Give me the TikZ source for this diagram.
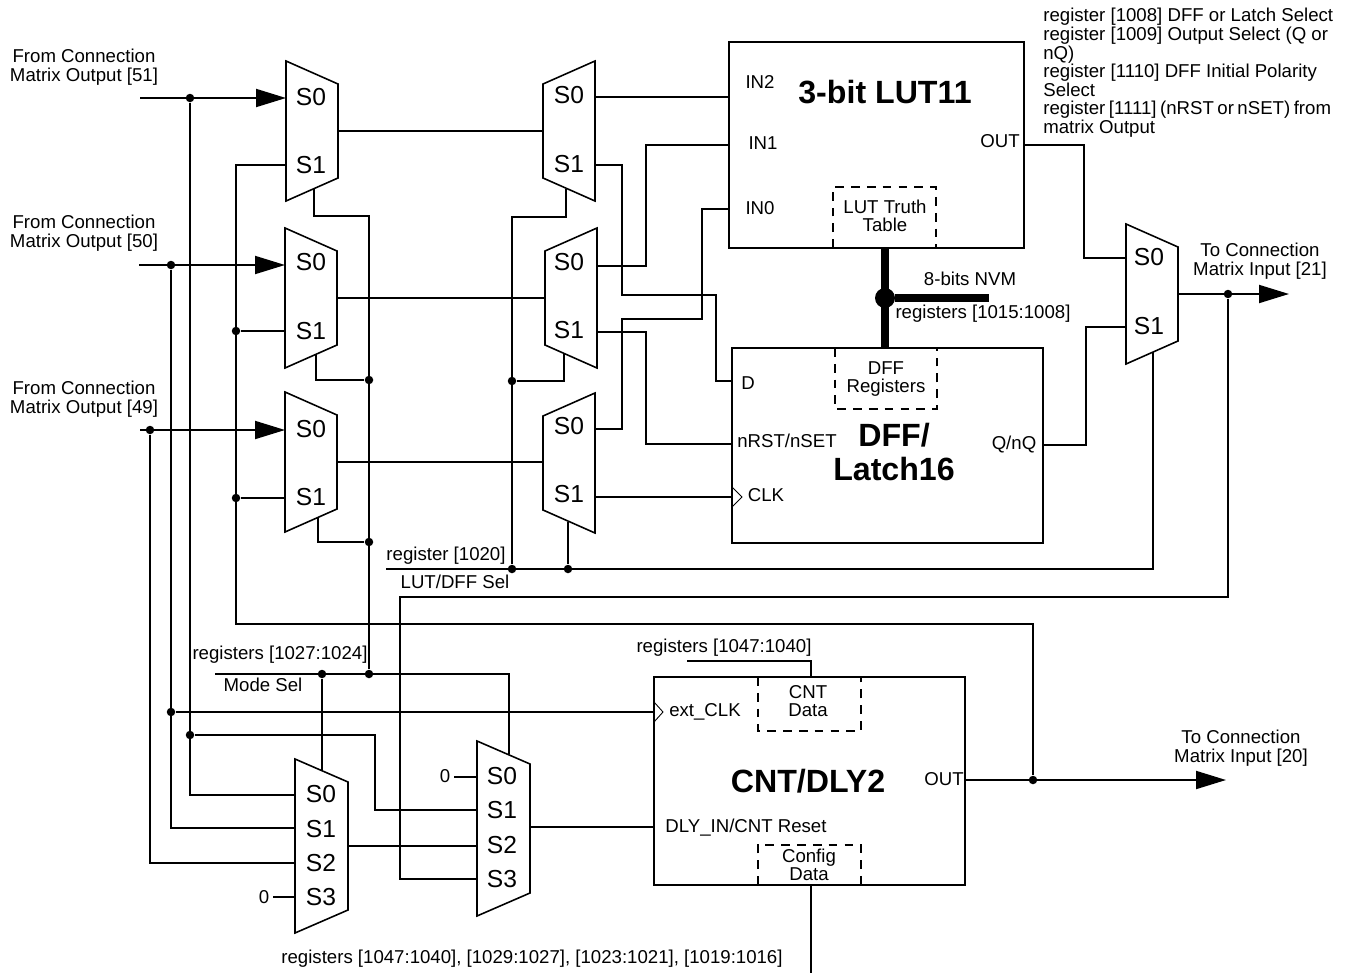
\documentclass[tikz,border=0pt]{standalone}
\usepackage{fontspec}
\setmainfont{Liberation Sans}
\usetikzlibrary{arrows.meta}
\tikzset{
    block/.style={
        draw,
        line width=1.1pt,
        inner sep=0pt,
        outer sep=0pt,
        minimum width=6.22cm,
        minimum height=3.9cm
    },
    muxbox/.style={
        inner sep=0pt,
        outer sep=0pt
    },
    muxline/.style={
        line width=0.9pt,
        line join=miter
    },
    wire/.style={
        line width=1.1pt
    },
    bigarrow/.style={
        wire,
        -{Triangle[length=0.6cm,width=0.36cm]}
    },
    dashbox/.style={
        line width=0.9pt,
        dash pattern=on 5pt off 4pt
    },
    bus/.style={
        line width=4pt
    },
    dot/.style={
        circle,
        fill=black,
        inner sep=0pt,
        minimum size=0.17cm
    },
    lab/.style={
        align=center,
        inner sep=0pt,
        yshift=-0.02cm,
        font=\fontsize{10.6}{10.6}\selectfont
    },
    muxlab/.style={
        inner sep=0pt,
        font=\fontsize{14}{14}\selectfont
    },
    title/.style={
        align=center,
        inner sep=0pt,
        font=\fontsize{18.3}{19.3}\selectfont\bfseries
    }
}
% name, centre x, centre y, width, long side, +1 long side left or -1 long side right
\newcommand{\muxnode}[6]{
    \node[muxbox, minimum width=#4*0.02cm, minimum height=#5*0.02cm] (#1) at (#2,#3) {};
    \draw[muxline, shift={(#2,#3)}]
        ({-#4/2},{-(#5/2-11.5+#6*11.5)}) -- ({#4/2},{-(#5/2-11.5-#6*11.5)}) --
        ({#4/2},{#5/2-11.5-#6*11.5}) -- ({-#4/2},{#5/2-11.5+#6*11.5}) -- cycle;
}

\begin{document}
\begin{tikzpicture}[x=0.02cm,y=-0.02cm]
    \useasboundingbox (0,0) rectangle (1350,974);

    % blocks
    \node[block, minimum width=5.9cm, minimum height=4.12cm] (lut) at (876.5,145) {};
    \node[block] (dff) at (887.5,445.5) {};
    \node[block, minimum height=4.16cm] (cnt) at (809.5,781) {};

    % muxes
    \muxnode{m1}{312}{131}{52}{140}{1}
    \muxnode{m2}{311}{298}{52}{140}{1}
    \muxnode{m3}{311}{462}{52}{140}{1}
    \muxnode{m4}{569}{131}{52}{140}{-1}
    \muxnode{m5}{571}{298}{52}{140}{-1}
    \muxnode{m6}{569}{463}{52}{140}{-1}
    \muxnode{m7}{1152}{294}{52}{140}{1}
    \muxnode{m8}{321.5}{846}{53}{174}{1}
    \muxnode{m9}{503.5}{828.5}{53}{175}{1}

    % pins and corners
    \foreach \n/\x/\y in {in51/140/98, in50/139/265, in49/140/430,
        m1s0/286/98, m1s1/286/165, m2s0/285/265, m2s1/285/331, m3s0/285/430, m3s1/285/498,
        m4s0/595/97, m4s1/595/165, m5s0/597/266, m5s1/597/332, m6s0/595/429, m6s1/595/497,
        m1sel/314/189, m2sel/316/354, m3sel/318/518, m4sel/566/189, m5sel/564/353, m6sel/568/522,
        m7sel/1153/352, m8sel/322/771, m9sel/509/754,
        m7s0/1126/258, m7s1/1126/327, out21/1289/294, out20/1226/780,
        m8s0/295/795, m8s1/295/828, m8s2/295/863, m8s3/295/897, m8out/348/846,
        m9s0/477/777, m9s1/477/810, m9s2/477/846, m9s3/477/879, m9out/530/827, cntdly/654/827,
        lutin2/729/97, lutin1/729/145, lutin0/729/209, lutout/1024/145,
        dffd/732/381, dffrst/732/444, dffclk/732/497, dffq/1043/445, cntclk/654/712, cntout/965/780,
        c369/369/216, c512/512/217, c236/236/624, c375/375/810, c400/400/597,
        c646a/646/145, c646b/646/444, c622/622/319, c702/702/209, c623/622/295, c716/716/381,
        c1084/1084/258, c1086/1086/327, sel1/386/569, sel2/215/674,
        zero1/454/777, zero2/273/897, cfgin/811/885, cfgout/811/973,
        cntin/811/677, cntbend/687/661, busa/885/248, busb/885/348, busc/989/298}
        \coordinate (\n) at (\x,\y);

    % junctions
    \foreach \n/\x/\y in {j51/190/98, j50/171/265, j49/150/430, ja/236/331, jb/236/498,
        jc/369/380, jd/369/542, je/512/381, jf/512/569, jg/568/569, jh/1228/294,
        jmode/369/674, jmodeb/322/674, jclk/171/712, ji/190/735, jout/1033/780}
        \node[dot] (\n) at (\x,\y) {};
    \node[dot, minimum size=0.4cm] (jbus) at (885,298) {};

    % inputs
    \draw[bigarrow] (in51) -- (m1s0);
    \draw[bigarrow] (in50) -- (m2s0);
    \draw[bigarrow] (in49) -- (m3s0);
    \draw[wire] (j51) |- (m8s0);
    \draw[wire] (j50) |- (m8s1);
    \draw[wire] (j49) |- (m8s2);
    \draw[wire] (m1s1) -| (c236) -| (jout);
    \draw[wire] (ja) -- (m2s1);
    \draw[wire] (jb) -- (m3s1);

    % first mux column to second
    \draw[wire] (m1.east) -- (m4.west);
    \draw[wire] (m2.east) -- (m5.west);
    \draw[wire] (m3.east) -- (m3.east -| m6.west);

    % select lines
    \draw[wire] (m1sel) |- (c369) -- (jmode);
    \draw[wire] (m2sel) |- (jc);
    \draw[wire] (m3sel) |- (jd);
    \draw[wire] (m4sel) |- (c512) -- (jf);
    \draw[wire] (m5sel) |- (je);
    \draw[wire] (m6sel) -- (jg);
    \draw[wire] (sel1) -| (m7sel);
    \draw[wire] (sel2) -| (m9sel);
    \draw[wire] (jmodeb) -- (m8sel);

    % into LUT and DFF
    \draw[wire] (m4s0) -- (lutin2);
    \draw[wire] (m5s0) -| (c646a) -- (lutin1);
    \draw[wire] (m6s0) -| (c622) -| (c702) -- (lutin0);
    \draw[wire] (m4s1) -| (c623) -| (c716) -- (dffd);
    \draw[wire] (m5s1) -| (c646b) -- (dffrst);
    \draw[wire] (m6s1) -- (dffclk);

    % outputs
    \draw[wire] (lutout) -| (c1084) -- (m7s0);
    \draw[wire] (dffq) -| (c1086) -- (m7s1);
    \draw[bigarrow] (m7.east) -- (out21);
    \draw[bigarrow] (cntout) -- (out20);

    % lower muxes
    \draw[wire] (jclk) -- (cntclk);
    \draw[wire] (ji) -| (c375) -- (m9s1);
    \draw[wire] (m8out) -- (m9s2);
    \draw[wire] (m9s3) -| (c400) -| (jh);
    \draw[wire] (zero1) -- (m9s0);
    \draw[wire] (zero2) -- (m8s3);
    \draw[wire] (m9out) -- (cntdly);
    \draw[wire] (cntbend) -| (cntin);
    \draw[wire] (cfgin) -- (cfgout);

    % NVM bus
    \draw[bus] (busa) -- (busb);
    \draw[bus] (jbus) -- (busc);

    % dashed memories and clock marks
    \draw[dashbox] (833,248) |- (936,187) -- (936,248);
    \draw[dashbox] (835,348) |- (937,409) -- (937,348);
    \draw[dashbox] (758,677) |- (861,731) -- (861,677);
    \draw[dashbox] (758,885) |- (861,845) -- (861,885);
    \draw[line width=0.5pt] (654,702) -- (663,712) -- (654,722);
    \draw[line width=0.5pt] (732,487) -- (742,497) -- (732,507);

    % mux labels
    \foreach \n/\t/\x/\y in {a1/S0/311/97, a2/S1/311/165, a3/S0/311/262, a4/S1/311/331,
        a5/S0/311/429, a6/S1/311/497, b1/S0/569/95, b2/S1/569/164, b3/S0/569/262,
        b4/S1/569/330, b5/S0/569/426, b6/S1/569/494, c1/S0/1149/257, c2/S1/1149/326,
        d0/S0/321/794, d1/S1/321/829, d2/S2/321/863, d3/S3/321/897,
        e0/S0/502/776, e1/S1/502/810, e2/S2/502/845, e3/S3/502/879}
        \node[muxlab] (\n) at (\x,\y) {\t};

    % text
    \node[lab] (from51) at (84,66) {From Connection\\Matrix Output [51]};
    \node[lab] (from50) at (84,232) {From Connection\\Matrix Output [50]};
    \node[lab] (from49) at (84,398) {From Connection\\Matrix Output [49]};
    \node[lab] (to21) at (1260,260) {To Connection\\Matrix Input [21]};
    \node[lab] (to20) at (1241,747) {To Connection\\Matrix Input [20]};
    \node[lab, align=left, anchor=north west] (regtext) at (1043,7) {register [1008] DFF or Latch Select\\register [1009] Output Select (Q or\\nQ)\\register [1110] DFF Initial Polarity\\Select\\{\spaceskip=2pt register [1111] (nRST or nSET) from}\\matrix Output};
    \node[title] (luttitle) at (885,92) {3-bit LUT11};
    \node[title] (dfftitle) at (894,452) {DFF/\\Latch16};
    \node[title] (cnttitle) at (808,781) {CNT/DLY2};
    \node[lab] (in2) at (760,81) {IN2};
    \node[lab] (in1) at (763,142) {IN1};
    \node[lab] (in0) at (760,207) {IN0};
    \node[lab] (outa) at (1000,140) {OUT};
    \node[lab] (truth) at (885,215) {LUT Truth\\Table};
    \node[lab] (dffreg) at (886,378) {DFF\\Registers};
    \node[lab] (d) at (748,382) {D};
    \node[lab] (nrst) at (787,440) {nRST/nSET};
    \node[lab] (clk) at (766,494) {CLK};
    \node[lab] (qnq) at (1014,444) {Q/nQ};
    \node[lab] (nvm) at (970,278) {8-bits NVM};
    \node[lab] (reg1015) at (983,313) {registers [1015:1008]};
    \node[lab] (reg1020) at (446,555) {register [1020]};
    \node[lab] (lutsel) at (455,581) {LUT/DFF Sel};
    \node[lab] (reg1027) at (280,654) {registers [1027:1024]};
    \node[lab] (modesel) at (263,684) {Mode Sel};
    \node[lab] (reg1047) at (724,647) {registers [1047:1040]};
    \node[lab] (zeroa) at (445,775) {0};
    \node[lab] (zerob) at (264,896) {0};
    \node[lab] (extclk) at (705,711) {ext\_CLK};
    \node[lab] (cntdata) at (808,700) {CNT\\Data};
    \node[lab] (outb) at (944,778) {OUT};
    \node[lab] (dlyin) at (746,827) {DLY\_IN/CNT Reset};
    \node[lab] (config) at (809,864) {Config\\Data};
    \node[lab] (regall) at (532,958) {registers [1047:1040], [1029:1027], [1023:1021], [1019:1016]};
\end{tikzpicture}
\end{document}
